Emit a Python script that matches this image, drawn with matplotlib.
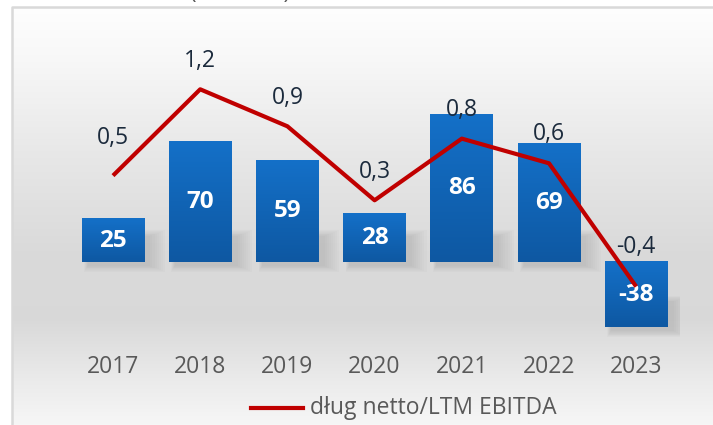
import numpy as np
import matplotlib
matplotlib.use("Agg")
import matplotlib.pyplot as plt
from matplotlib.patches import Rectangle
from matplotlib.lines import Line2D

years = ["2017", "2018", "2019", "2020", "2021", "2022", "2023"]
net_debt = [25, 70, 59, 28, 86, 69, -38]
leverage = [0.5, 1.2, 0.9, 0.3, 0.8, 0.6, -0.4]
leverage_labels = ["0,5", "1,2", "0,9", "0,3", "0,8", "0,6", "-0,4"]
legend_label = "dług netto/LTM EBITDA"
unit_text = "(mln PLN)"

W, H = 713, 425
plt.rcParams['font.family'] = ['Open Sans', 'DejaVu Sans']

fig = plt.figure(figsize=(W / 100, H / 100), dpi=100)

def px_rect(left, top, right, bottom):
    return [left / W, 1 - bottom / H, (right - left) / W, (bottom - top) / H]

# background gradient panel with frame
bg = fig.add_axes([0, 0, 1, 1], zorder=0)
bg.set_xlim(0, W)
bg.set_ylim(H, 0)
bg.axis('off')
stops_y = np.array([7, 60, 150, 250, 320, 380, 425])
stops_v = np.array([0.995, 0.97, 0.91, 0.855, 0.85, 0.92, 0.965])
yy = np.linspace(7, 425, 400)
vals = np.interp(yy, stops_y, stops_v)
grad = np.repeat(vals[:, None], 2, axis=1)
bg.imshow(np.dstack([grad, grad, grad]), extent=[12, 713, 425, 7], aspect='auto',
          interpolation='bilinear', zorder=0)
bg.plot([12, 12, 713], [425, 7, 7], color='#d9d9d9', lw=1.8, zorder=1)
bg.text(240, -1.5, unit_text, ha='center', va='baseline', fontsize=16, color='#595959',
        clip_on=False)

# main axes
ax = fig.add_axes(px_rect(69.4, 20, 679.8, 340), zorder=2)
ax.patch.set_alpha(0)
x = np.arange(len(years))
ax.set_xlim(-0.5, len(years) - 0.5)
ax.set_ylim(-45.3, 140.7)
for s in ax.spines.values():
    s.set_visible(False)
ax.set_yticks([])
ax.set_xticks(x)
ax.set_xticklabels(years, fontsize=16.5, color='#595959')
ax.tick_params(axis='x', length=0, pad=10.5)

bw = 0.72
pxx = 1 / 87.2
pxy = 1 / 1.72
# soft shadows
for xi, v in zip(x, net_debt):
    base = min(v, 0)
    top = max(v, 0)
    for k in range(8):
        grow = k * 1.6
        ax.add_patch(Rectangle((xi - bw / 2 + 6 * pxx - grow * pxx * 0.3,
                                base - 4 * pxy - grow * pxy * 0.5),
                               bw + grow * pxx * 1.6,
                               min(top - base, 30 * pxy) + grow * pxy,
                               facecolor='#808080', alpha=0.035, lw=0, zorder=1))

# gradient bars
cmap_top = np.array([20, 112, 200]) / 255
cmap_bot = np.array([14, 88, 162]) / 255
bars = ax.bar(x, net_debt, width=bw, color='none', zorder=2)
g = np.linspace(0, 1, 100)[:, None]
for b, v in zip(bars, net_debt):
    x0, y0 = b.get_x(), b.get_y()
    w, h = b.get_width(), b.get_height()
    ylo, yhi = min(y0, y0 + h), max(y0, y0 + h)
    img = cmap_top[None, None, :] * (1 - g[:, :, None]) + cmap_bot[None, None, :] * g[:, :, None]
    img = np.repeat(img, 2, axis=1)
    ax.imshow(img, extent=[x0, x0 + w, ylo, yhi], origin='upper', aspect='auto',
              interpolation='bilinear', zorder=3)
    ax.text(x0 + w / 2, (ylo + yhi) / 2, f"{v}", ha='center', va='center',
            fontsize=17.5, fontweight='bold', color='white', zorder=6)

# secondary axis line
ax2 = ax.twinx()
ax2.set_zorder(3)
ax2.patch.set_alpha(0)
ax2.set_ylim(-0.833, 1.762)
ax2.set_yticks([])
for s in ax2.spines.values():
    s.set_visible(False)
ax2.plot(x, leverage, color='#c00000', lw=3.0, solid_capstyle='butt', zorder=5)
offsets = [38, 28, 28, 28, 29, 29, 40]
for xi, v, lab, off in zip(x, leverage, leverage_labels, offsets):
    ax2.annotate(lab, (xi, v), xytext=(0, off * 0.72), textcoords='offset points',
                 ha='center', va='center', fontsize=16.5, color='#1b2a3c', zorder=7)

# legend
leg_ax = fig.add_axes([0, 0, 1, 1], zorder=4)
leg_ax.set_xlim(0, W)
leg_ax.set_ylim(H, 0)
leg_ax.axis('off')
leg_ax.add_line(Line2D([251, 303], [408, 408], color='#c00000', lw=3.0))
leg_ax.text(310, 408, legend_label, ha='left', va='center', fontsize=16.5, color='#595959')

fig.savefig('out.png', dpi=100)
